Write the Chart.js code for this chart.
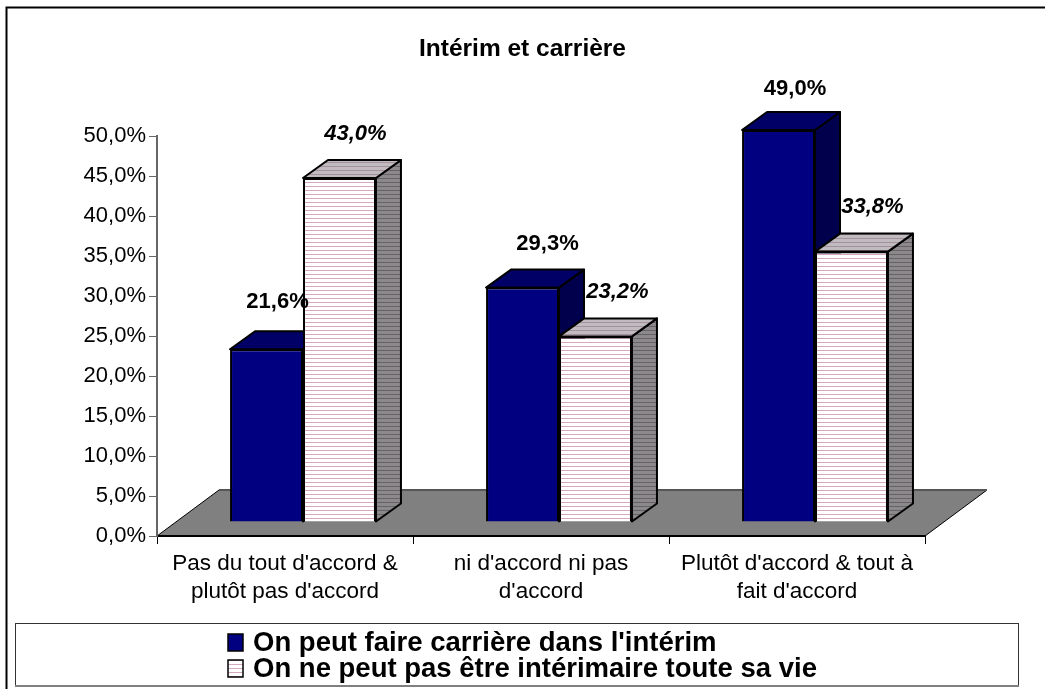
<!DOCTYPE html>
<html lang="fr">
<head>
<meta charset="utf-8">
<title>Intérim et carrière</title>
<script src="https://cdn.jsdelivr.net/npm/chart.js@4/dist/chart.umd.min.js"></script>
<style>
    html, body { margin: 0; padding: 0; background: #fff; overflow: hidden; }
    #wrap { position: relative; width: 1045px; height: 689px; }
</style>
</head>
<body>
<div id="wrap"><canvas id="chart" width="1045" height="689"></canvas></div>
<script>
const categories = [
    ["Pas du tout d'accord &", "plutôt pas d'accord"],
    ["ni d'accord ni pas", "d'accord"],
    ["Plutôt d'accord & tout à", "fait d'accord"],
];
const carriere = [21.6, 29.3, 49.0];
const pasTouteLaVie = [43.0, 23.2, 33.8];
const tickLabels = ["0,0%", "5,0%", "10,0%", "15,0%", "20,0%", "25,0%", "30,0%", "35,0%", "40,0%", "45,0%", "50,0%"];
const seriesNames = ["On peut faire carrière dans l'intérim", "On ne peut pas être intérimaire toute sa vie"];

// hand placed labels, same order as the values
const labelShift = [
    [[11, -47], [25, -44], [16.5, -41]],
    [[16, -44], [22, -44], [21, -45]],
];

const FONT = "'Liberation Sans', Arial, sans-serif";
const shiftX = 18; // bars stand in the middle of the floor
const shiftY = -14;
const depthX = 25;
const depthY = -18;

function stripes(bg, line) {
    const c = document.createElement("canvas");
    c.width = 4;
    c.height = 4;
    const p = c.getContext("2d");
    p.fillStyle = bg;
    p.fillRect(0, 0, 4, 4);
    p.fillStyle = line;
    p.fillRect(0, 0, 4, 1);
    return p.createPattern(c, "repeat");
}

const ctx = document.getElementById("chart").getContext("2d");

const faces = [
    { top: "#000066", side: "#00004d" },
    { top: stripes("#c0bcbe", "#a58fa0"), side: stripes("#8a8a8a", "#6b5f68") },
];

function drawFaces(c, meta, face) {
    c.strokeStyle = "#000";
    c.lineWidth = 2;
    c.lineJoin = "round";
    meta.data.forEach((bar) => {
        const left = bar.x - bar.width / 2;
        const right = bar.x + bar.width / 2;
        c.fillStyle = face.side;
        c.beginPath();
        c.moveTo(right, bar.y);
        c.lineTo(right + depthX, bar.y + depthY);
        c.lineTo(right + depthX, bar.base + depthY);
        c.lineTo(right, bar.base);
        c.closePath();
        c.fill();
        c.stroke();
        c.fillStyle = face.top;
        c.beginPath();
        c.moveTo(left, bar.y);
        c.lineTo(left + depthX, bar.y + depthY);
        c.lineTo(right + depthX, bar.y + depthY);
        c.lineTo(right, bar.y);
        c.closePath();
        c.fill();
        c.stroke();
    });
}

const box3d = {
    id: "box3d",
    afterLayout(chart) {
        // title is centred on the whole page, not on the padded part
        chart.titleBlock.left = 0;
        chart.titleBlock.right = chart.width;
    },
    beforeDraw(chart) {
        const c = chart.ctx;
        const x0 = chart.scales.x.left;
        const x1 = chart.scales.x.right;
        const y0 = chart.scales.y.getPixelForValue(0);

        // outer frame
        c.save();
        c.strokeStyle = "#000";
        c.lineWidth = 2;
        c.beginPath();
        c.moveTo(6.5, 689);
        c.lineTo(6.5, 7.5);
        c.lineTo(1045, 7.5);
        c.stroke();

        // floor
        c.fillStyle = "#808080";
        c.beginPath();
        c.moveTo(x0, y0);
        c.lineTo(x1, y0);
        c.lineTo(x1 + 62, y0 - 46);
        c.lineTo(x0 + 62, y0 - 46);
        c.closePath();
        c.fill();
        c.strokeStyle = "#000";
        c.lineWidth = 1;
        c.beginPath();
        c.moveTo(x0, y0);
        c.lineTo(x0 + 62, y0 - 46);
        c.moveTo(x1, y0);
        c.lineTo(x1 + 62, y0 - 46);
        c.stroke();
        c.strokeStyle = "#555";
        c.lineWidth = 2;
        c.beginPath();
        c.moveTo(x0 + 62, y0 - 46);
        c.lineTo(x1 + 62, y0 - 46);
        c.stroke();
        c.restore();
    },
    // the first series has to go under the second one, chart.js paints them the other way round
    beforeDatasetDraw(chart, args) {
        if (args.index === 0) {
            return false;
        }
        const c = chart.ctx;
        const first = chart.getDatasetMeta(0);
        c.save();
        c.translate(shiftX, shiftY);
        drawFaces(c, first, faces[0]);
        first.data.forEach((bar) => bar.draw(c));
        drawFaces(c, args.meta, faces[1]);
    },
    afterDatasetDraw(chart) {
        chart.ctx.restore();
    },
    afterDatasetsDraw(chart) {
        const c = chart.ctx;
        c.save();
        c.fillStyle = "#000";
        c.textAlign = "center";
        c.textBaseline = "middle";
        chart.data.datasets.forEach((ds, i) => {
            c.font = (i === 1 ? "italic " : "") + "bold 22px " + FONT;
            chart.getDatasetMeta(i).data.forEach((bar, j) => {
                const text = ds.data[j].toFixed(1).replace(".", ",") + "%";
                c.fillText(text, bar.x + shiftX + labelShift[i][j][0], bar.y + shiftY + labelShift[i][j][1]);
            });
        });

        // legend box
        c.strokeStyle = "#333";
        c.lineWidth = 1;
        c.strokeRect(15.5, 623.5, 1003, 62);
        c.strokeStyle = "#808080";
        c.lineWidth = 2;
        c.beginPath();
        c.moveTo(15, 686);
        c.lineTo(1019, 686);
        c.stroke();
        c.textAlign = "left";
        c.font = "bold 27.5px " + FONT;
        chart.data.datasets.forEach((ds, i) => {
            const y = 634 + i * 26;
            c.fillStyle = ds.backgroundColor;
            c.fillRect(228, y, 15, 17);
            c.strokeStyle = "#000";
            c.lineWidth = 1.5;
            c.strokeRect(228, y, 15, 17);
            c.fillStyle = "#000";
            c.fillText(seriesNames[i], 253, y + 9);
        });
        c.restore();
    },
};

new Chart(ctx, {
    type: "bar",
    data: {
        labels: categories,
        datasets: [
            {
                label: seriesNames[0],
                data: carriere,
                backgroundColor: "#000080",
                borderColor: "#000",
                borderWidth: 2,
                clip: false,
            },
            {
                label: seriesNames[1],
                data: pasTouteLaVie,
                backgroundColor: stripes("#fff", "#d4a9c0"),
                borderColor: "#000",
                borderWidth: 2,
                clip: false,
            },
        ],
    },
    options: {
        responsive: false,
        animation: false,
        layout: { padding: { right: 120 } },
        datasets: {
            bar: { categoryPercentage: 0.57, barPercentage: 1 },
        },
        scales: {
            x: {
                afterFit(scale) {
                    scale.height = 153;
                },
                grid: {
                    drawOnChartArea: false,
                    color: "#000",
                    tickLength: 8,
                },
                border: { color: "#000", width: 2 },
                ticks: {
                    color: "#000",
                    maxRotation: 0,
                    padding: 6,
                    font: { family: FONT, size: 22.5, lineHeight: 1.25 },
                },
            },
            y: {
                min: 0,
                max: 50,
                afterFit(scale) {
                    scale.width = 157;
                },
                grid: {
                    drawOnChartArea: false,
                    color: "#666",
                    tickLength: 8,
                },
                border: { color: "#666", width: 2 },
                ticks: {
                    stepSize: 5,
                    color: "#000",
                    padding: 3,
                    font: { family: FONT, size: 22 },
                    callback(value, index) {
                        return tickLabels[index];
                    },
                },
            },
        },
        plugins: {
            legend: { display: false },
            tooltip: { enabled: false },
            title: {
                display: true,
                text: "Intérim et carrière",
                color: "#000",
                font: { family: FONT, size: 24.5, weight: "bold", lineHeight: 1.2 },
                padding: { top: 35, bottom: 71.6 },
            },
        },
    },
    plugins: [box3d],
});
</script>
</body>
</html>
